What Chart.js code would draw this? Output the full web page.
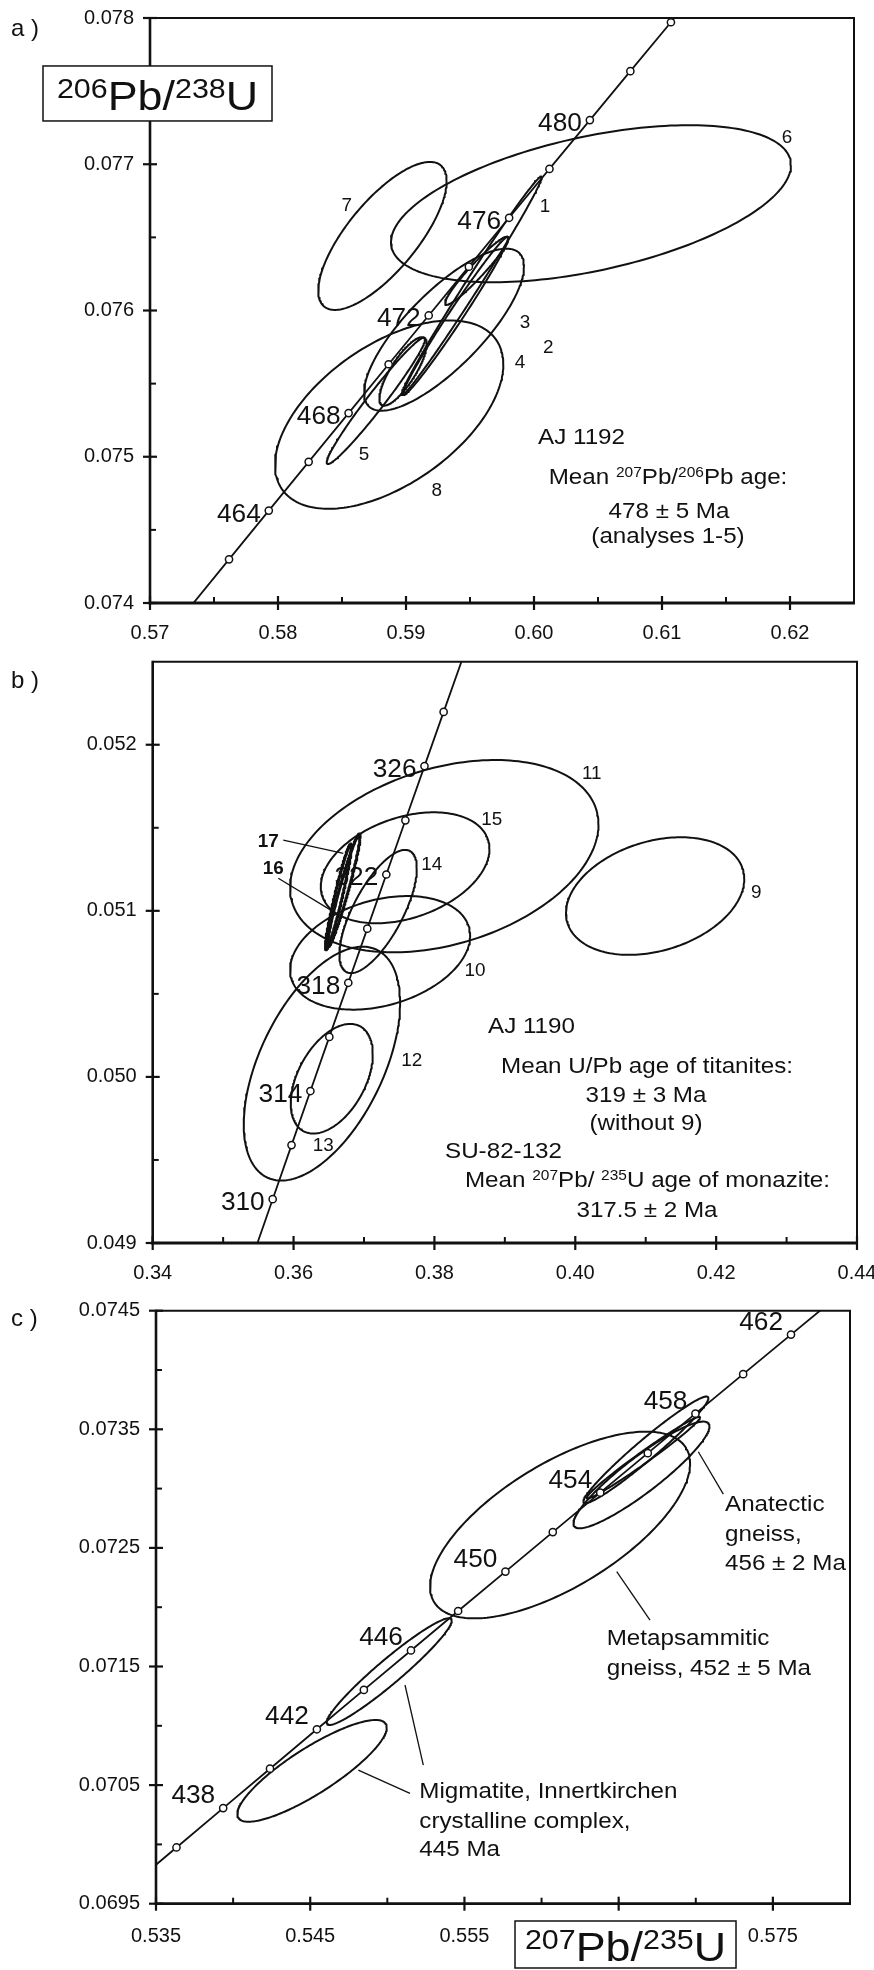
<!DOCTYPE html>
<html><head><meta charset="utf-8">
<script src="https://cdn.jsdelivr.net/npm/chart.js@4.4.1/dist/chart.umd.min.js"></script>
<style>
html,body{margin:0;padding:0;background:#fff;}
#wrap{position:relative;width:874px;height:1970px;overflow:hidden;background:#fff;}
canvas{position:absolute;left:0;}
</style></head><body>
<div id="wrap">
<canvas id="ca" width="874" height="660" style="top:0px;width:874px;height:660px"></canvas>
<canvas id="cb" width="874" height="660" style="top:640px;width:874px;height:660px"></canvas>
<canvas id="cc" width="874" height="690" style="top:1280px;width:874px;height:690px"></canvas>
</div>
<script>
// ---------------- DATA ----------------
// Panel a : AJ 1192
const concA_age = [462,464,466,468,470,472,474,476,478,480,482,484];
const concA_x = [0.576174,0.579281,0.582396,0.585516,0.588642,0.591774,0.594912,0.598057,0.601208,0.604365,0.607528,0.610698];
const concA_y = [0.0742985,0.0746317,0.0749652,0.0752987,0.0756324,0.0759661,0.0763000,0.0766340,0.0769681,0.0773022,0.0776365,0.0779709];
const concA_endX = [0.573073,0.613874];
const concA_endY = [0.0739651,0.0783065];
const concA_labelAges = [464,468,472,476,480];
const ellA_id  = ['1','2','3','4','5','6','7','8','2b'];
const ellA_cx  = [0.595133,0.593879,0.592969,0.589766,0.587645,0.60445,0.58816,0.588684,0.595520];
const ellA_sx  = [0.005469,0.004113,0.00625,0.001852,0.00384,0.015625,0.005016,0.008918,0.002473];
const ellA_cy  = [0.076169,0.075963,0.075869,0.075583,0.075382,0.07673,0.07651,0.075288,0.076271];
const ellA_sy  = [0.000747,0.000541,0.000554,0.000234,0.000432,0.000537,0.000506,0.000644,0.000233];
const ellA_rho = [0.993,0.987,0.78,0.80,0.975,0.49,0.74,0.533,0.954];
const xTicksA = [0.57,0.58,0.59,0.60,0.61,0.62];
const xMinorA = [0.575,0.585,0.595,0.605,0.615];
const yTicksA = [0.074,0.075,0.076,0.077,0.078];
const yMinorA = [0.0745,0.0755,0.0765,0.0775];

// Panel b : AJ 1190 / SU-82-132
const concB_age = [310,312,314,316,318,320,322,324,326,328];
const concB_x = [0.357037,0.359712,0.362393,0.365079,0.367771,0.370468,0.373170,0.375877,0.378590,0.381308];
const concB_y = [0.0492638,0.0495894,0.0499150,0.0502408,0.0505667,0.0508927,0.0512188,0.0515450,0.0518713,0.0521977];
const concB_endX = [0.351701,0.386760];
const concB_endY = [0.0486130,0.0528502];
const concB_labelAges = [310,314,318,322,326];
const ellB_id  = ['9','10','11','12','13','14','15','16','17'];
const ellB_cx  = [0.411335,0.372287,0.381399,0.364027,0.365426,0.372003,0.375838,0.366363,0.367131];
const ellB_sx  = [0.012656,0.012784,0.021896,0.011101,0.005824,0.005497,0.011974,0.001847,0.002315];
const ellB_cy  = [0.051089,0.050747,0.051329,0.050080,0.049989,0.050996,0.051259,0.051084,0.051123];
const ellB_sy  = [0.000354,0.000342,0.000579,0.000704,0.000330,0.000371,0.000334,0.000319,0.000340];
const ellB_rho = [0.29,0.30,0.33,0.52,0.45,0.70,0.34,0.955,0.96];
const xTicksB = [0.34,0.36,0.38,0.40,0.42,0.44];
const xMinorB = [0.35,0.37,0.39,0.41,0.43];
const yTicksB = [0.049,0.050,0.051,0.052];
const yMinorB = [0.0495,0.0505,0.0515];

// Panel c : gneisses / migmatite
const concC_age = [436,438,440,442,444,446,448,450,452,454,456,458,460,462];
const concC_x = [0.536327,0.539356,0.542391,0.545432,0.548479,0.551532,0.554591,0.557657,0.560728,0.563805,0.566888,0.569978,0.573073,0.576174];
const concC_y = [0.0699742,0.0703062,0.0706383,0.0709705,0.0713028,0.0716352,0.0719678,0.0723004,0.0726331,0.0729660,0.0732989,0.0736319,0.0739651,0.0742985];
const concC_endX = [0.530287,0.582396];
const concC_endY = [0.0693104,0.0749652];
const concC_labelAges = [438,442,446,450,454,458,462];
const ellC_id  = ['migmatite-1','migmatite-2','metapsammitic','anatectic-1','anatectic-2','anatectic-3'];
const ellC_cx  = [0.545117,0.550123,0.5612,0.566764,0.566477,0.566605];
const ellC_sx  = [0.004845,0.004053,0.008431,0.004053,0.00441,0.003674];
const ellC_cy  = [0.07062,0.071457,0.072693,0.073326,0.073115,0.073261];
const ellC_sy  = [0.000429,0.00045,0.000787,0.00045,0.00045,0.000344];
const ellC_rho = [0.85,0.955,0.66,0.969,0.91,0.985];
const xTicksC = [0.535,0.545,0.555,0.565,0.575];
const xMinorC = [0.54,0.55,0.56,0.57];
const yTicksC = [0.0695,0.0705,0.0715,0.0725,0.0735,0.0745];
const yMinorC = [0.070,0.071,0.072,0.073,0.074];

// ---------------- STYLE / LAYOUT ----------------
const FONT = '"Liberation Sans", Arial, Helvetica, sans-serif';
const INK = '#111';

const annA = {
  labels: [['1',0.600859,0.076715],['2',0.601117,0.075752],['3',0.599297,0.075923],['4',0.598906,0.075650],
           ['5',0.586719,0.075024],['6',0.619766,0.077188],['7',0.585367,0.076728],['8',0.592398,0.074773]],
  leaders: [],
  texts: [
    {segs:[['AJ 1192',0]], x:0.600313, y:0.075142, align:'left'},
    {segs:[['Mean ',0],['207',1],['Pb/',0],['206',1],['Pb age:',0]], x:0.610469, y:0.074868, align:'center'},
    {segs:[['478 \u00b1 5 Ma',0]], x:0.610547, y:0.074636, align:'center'},
    {segs:[['(analyses 1-5)',0]], x:0.610469, y:0.074465, align:'center'}
  ],
  box: {x:0.570586, y:0.077484, w:229, h:55, segs:[['206',1],['Pb/',0],['238',1],['U',0]]},
  letter: {t:'a )', left:11, cy:27.5},
  ageDx:-8, ageDy:2
};
const annB = {
  labels: [['9',0.425702,0.051115],['10',0.385762,0.050644],['11',0.402332,0.051834],['12',0.376775,0.050102],
           ['13',0.364223,0.049594],['14',0.379614,0.051286],['15',0.388133,0.051553],
           ['16',0.357124,0.051260,true],['17',0.356414,0.051426,true]],
  leaders: [[0.358543,0.051426,0.367063,0.051346],[0.357833,0.051196,0.365643,0.050995]],
  texts: [
    {segs:[['AJ 1190',0]], x:0.387607, y:0.050313, align:'left'},
    {segs:[['Mean U/Pb age of titanites:',0]], x:0.410183, y:0.050072, align:'center'},
    {segs:[['319 \u00b1 3 Ma',0]], x:0.410041, y:0.049897, align:'center'},
    {segs:[['(without 9)',0]], x:0.410041, y:0.049729, align:'center'},
    {segs:[['SU-82-132',0]], x:0.381503, y:0.049560, align:'left'},
    {segs:[['Mean ',0],['207',1],['Pb/ ',0],['235',1],['U age of monazite:',0]], x:0.410254, y:0.049385, align:'center'},
    {segs:[['317.5 \u00b1 2 Ma',0]], x:0.410183, y:0.049205, align:'center'}
  ],
  box: null,
  letter: {t:'b )', left:11, cy:39},
  ageDx:-8, ageDy:2
};
const annC = {
  labels: [],
  leaders: [[0.570164,0.073311,0.571785,0.072954],[0.564873,0.072299,0.567032,0.071892],
            [0.548118,0.070627,0.551470,0.070431],[0.551146,0.071344,0.552333,0.070669]],
  texts: [
    {segs:[['Anatectic',0]], x:0.571895, y:0.072876, align:'left'},
    {segs:[['gneiss,',0]], x:0.571895, y:0.072623, align:'left'},
    {segs:[['456 \u00b1 2 Ma',0]], x:0.571895, y:0.072384, align:'left'},
    {segs:[['Metapsammitic',0]], x:0.564224, y:0.071751, align:'left'},
    {segs:[['gneiss, 452 \u00b1 5 Ma',0]], x:0.564224, y:0.071498, align:'left'},
    {segs:[['Migmatite, Innertkirchen',0]], x:0.552073, y:0.070459, align:'left'},
    {segs:[['crystalline complex,',0]], x:0.552073, y:0.070206, align:'left'},
    {segs:[['445 Ma',0]], x:0.552073, y:0.069967, align:'left'}
  ],
  box: {x:0.565444, y:0.069156, w:221, h:47, segs:[['207',1],['Pb/',0],['235',1],['U',0]]},
  letter: {t:'c )', left:11, cy:37},
  ageDx:-8, ageDy:-14
};

// ---------------- HELPERS ----------------
function ellipsePoints(cx, sx, cy, sy, rho) {
  const pts = [], n = 200, q = Math.sqrt(1 - rho * rho);
  for (let k = 0; k <= n; k++) {
    const t = 2 * Math.PI * k / n;
    pts.push({x: cx + sx * Math.cos(t), y: cy + sy * (rho * Math.cos(t) + q * Math.sin(t))});
  }
  return pts;
}
function seg(ctx, x1, y1, x2, y2, w) {
  ctx.lineWidth = w; ctx.beginPath(); ctx.moveTo(x1, y1); ctx.lineTo(x2, y2); ctx.stroke();
}
function rich(ctx, segs, x, yc, size, align, hs, weight, supRatio) {
  weight = weight || 'normal'; supRatio = supRatio || 0.64;
  const supSize = size * supRatio;
  let w = 0;
  const parts = segs.map(([t, sup]) => {
    ctx.font = weight + ' ' + (sup ? supSize : size) + 'px ' + FONT;
    const mw = ctx.measureText(t).width * hs;
    w += mw;
    return {t, sup, mw};
  });
  let cx = align === 'center' ? x - w / 2 : (align === 'right' ? x - w : x);
  const base = yc + 0.36 * size;
  parts.forEach(p => {
    ctx.font = weight + ' ' + (p.sup ? supSize : size) + 'px ' + FONT;
    ctx.save();
    ctx.translate(cx, p.sup ? base - 0.3 * size : base);
    ctx.scale(hs, 1);
    ctx.textAlign = 'left'; ctx.textBaseline = 'alphabetic';
    ctx.fillText(p.t, 0, 0);
    ctx.restore();
    cx += p.mw;
  });
}

function drawDecor(chart, P) {
  const ctx = chart.ctx, a = chart.chartArea, xs = chart.scales.x, ys = chart.scales.y;
  const X = v => xs.getPixelForValue(v), Y = v => ys.getPixelForValue(v);
  const A = P.ann;
  ctx.save();
  ctx.strokeStyle = INK; ctx.fillStyle = INK; ctx.lineCap = 'butt';
  seg(ctx, a.left, a.top, a.right + 1, a.top, 2);
  seg(ctx, a.right, a.top, a.right, a.bottom, 2);
  seg(ctx, a.left, a.top - 1, a.left, a.bottom + 1.4, 2.6);
  seg(ctx, a.left - 1.3, a.bottom, a.right + 1, a.bottom, 2.8);
  P.xTicks.forEach(v => seg(ctx, X(v), a.bottom - 7, X(v), a.bottom + 7, 2.2));
  P.xMinor.forEach(v => seg(ctx, X(v), a.bottom - 6, X(v), a.bottom, 2));
  P.yTicks.forEach(v => seg(ctx, a.left - 7, Y(v), a.left + 7, Y(v), 2.2));
  P.yMinor.forEach(v => seg(ctx, a.left, Y(v), a.left + 6, Y(v), 2));
  A.leaders.forEach(l => seg(ctx, X(l[0]), Y(l[1]), X(l[2]), Y(l[3]), 1.3));
  P.labelAges.forEach(age => {
    const i = P.ages.indexOf(age);
    rich(ctx, [[String(age), 0]], X(P.cx[i]) + A.ageDx, Y(P.cy[i]) + A.ageDy, 25, 'right', 1.05);
  });
  A.labels.forEach(l => rich(ctx, [[l[0], 0]], X(l[1]), Y(l[2]), 18, 'center', 1.05, l[3] ? 'bold' : 'normal'));
  A.texts.forEach(t => rich(ctx, t.segs, X(t.x), Y(t.y), 22, t.align, 1.1));
  if (A.box) {
    const bx = X(A.box.x), by = Y(A.box.y);
    ctx.fillStyle = '#fff';
    ctx.fillRect(bx - A.box.w / 2, by - A.box.h / 2, A.box.w, A.box.h);
    ctx.lineWidth = 1.5; ctx.strokeStyle = INK;
    ctx.strokeRect(bx - A.box.w / 2, by - A.box.h / 2, A.box.w, A.box.h);
    ctx.fillStyle = INK;
    rich(ctx, A.box.segs, bx, by + 2, 40, 'center', 1.12, 'normal', 0.68);
  }
  rich(ctx, [[A.letter.t, 0]], A.letter.left, A.letter.cy, 24, 'left', 1);
  ctx.restore();
}

function makeChart(id, P) {
  const datasets = [];
  datasets.push({
    label: 'age markers',
    data: P.cx.map((x, i) => ({x: x, y: P.cy[i]})),
    showLine: false, pointRadius: 3.6, pointBorderWidth: 1.5,
    pointBorderColor: INK, pointBackgroundColor: '#fff', clip: 0
  });
  const line = [{x: P.endX[0], y: P.endY[0]}].concat(P.cx.map((x, i) => ({x: x, y: P.cy[i]})), [{x: P.endX[1], y: P.endY[1]}]);
  datasets.push({label: 'concordia', data: line, showLine: true, pointRadius: 0, borderColor: INK, borderWidth: 1.8, tension: 0, clip: 0});
  P.ell.id.forEach((id, i) => {
    const thick = P.ell.bold && P.ell.bold.indexOf(id) >= 0;
    datasets.push({
      label: 'ellipse ' + id,
      data: ellipsePoints(P.ell.cx[i], P.ell.sx[i], P.ell.cy[i], P.ell.sy[i], P.ell.rho[i]),
      showLine: true, pointRadius: 0, borderColor: INK, borderWidth: thick ? 3 : 2,
      tension: 0, clip: 0, borderJoinStyle: 'round'
    });
  });
  const canvas = document.getElementById(id);
  new Chart(canvas, {
    type: 'scatter',
    data: {datasets: datasets},
    options: {
      responsive: false, animation: false, devicePixelRatio: 1, events: [],
      layout: {padding: {left: 0, top: P.area.top, right: 874 - P.area.right, bottom: 0}},
      plugins: {legend: {display: false}, tooltip: {enabled: false}},
      scales: {
        x: {
          type: 'linear', min: P.xMin, max: P.xMax,
          grid: {display: false, drawTicks: false}, border: {display: false},
          ticks: {padding: P.xPad, color: INK, font: {family: FONT, size: 20}, maxRotation: 0, autoSkip: false,
                  callback: v => Number(v).toFixed(P.xDec)},
          afterBuildTicks: s => { s.ticks = P.xTicks.map(v => ({value: v})); },
          afterFit: s => { s.height = P.h - P.area.bottom; s.paddingLeft = 0; s.paddingRight = 0; }
        },
        y: {
          type: 'linear', min: P.yMin, max: P.yMax,
          grid: {display: false, drawTicks: false}, border: {display: false},
          ticks: {padding: 16, color: INK, font: {family: FONT, size: 20}, autoSkip: false,
                  callback: v => Number(v).toFixed(P.yDec)},
          afterBuildTicks: s => { s.ticks = P.yTicks.map(v => ({value: v})); },
          afterFit: s => { s.width = P.area.left; s.paddingTop = 0; s.paddingBottom = 0; }
        }
      }
    },
    plugins: [{id: 'decor', afterDraw: chart => drawDecor(chart, P)}]
  });
}

makeChart('ca', {
  h: 660, area: {left: 150, right: 854, top: 18, bottom: 603},
  xMin: 0.57, xMax: 0.625, yMin: 0.074, yMax: 0.078, xDec: 2, yDec: 3, xPad: 18,
  xTicks: xTicksA, xMinor: xMinorA, yTicks: yTicksA, yMinor: yMinorA,
  ages: concA_age, cx: concA_x, cy: concA_y, endX: concA_endX, endY: concA_endY, labelAges: concA_labelAges,
  ell: {id: ellA_id, cx: ellA_cx, sx: ellA_sx, cy: ellA_cy, sy: ellA_sy, rho: ellA_rho},
  ann: annA
});
makeChart('cb', {
  h: 660, area: {left: 152.7, right: 857, top: 21.7, bottom: 603},
  xMin: 0.34, xMax: 0.44, yMin: 0.049, yMax: 0.0525, xDec: 2, yDec: 3, xPad: 18,
  xTicks: xTicksB, xMinor: xMinorB, yTicks: yTicksB, yMinor: yMinorB,
  ages: concB_age, cx: concB_x, cy: concB_y, endX: concB_endX, endY: concB_endY, labelAges: concB_labelAges,
  ell: {id: ellB_id, cx: ellB_cx, sx: ellB_sx, cy: ellB_cy, sy: ellB_sy, rho: ellB_rho, bold: ['16','17']},
  ann: annB
});
makeChart('cc', {
  h: 690, area: {left: 156, right: 850, top: 30.7, bottom: 623.7},
  xMin: 0.535, xMax: 0.58, yMin: 0.0695, yMax: 0.0745, xDec: 3, yDec: 4, xPad: 21,
  xTicks: xTicksC, xMinor: xMinorC, yTicks: yTicksC, yMinor: yMinorC,
  ages: concC_age, cx: concC_x, cy: concC_y, endX: concC_endX, endY: concC_endY, labelAges: concC_labelAges,
  ell: {id: ellC_id, cx: ellC_cx, sx: ellC_sx, cy: ellC_cy, sy: ellC_sy, rho: ellC_rho},
  ann: annC
});
</script>
</body></html>
